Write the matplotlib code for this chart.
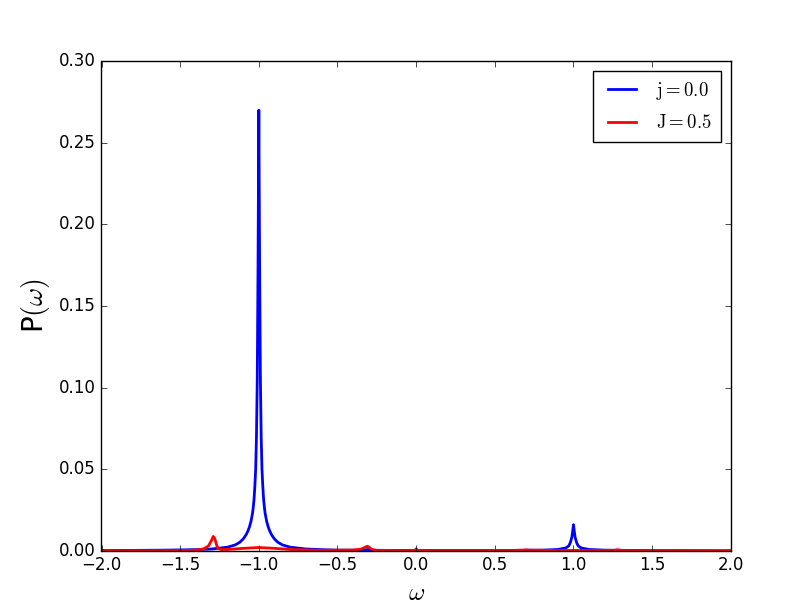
import matplotlib
matplotlib.use("Agg")
import matplotlib.pyplot as plt

# spectra
w_j0 = [-2.0, -1.6, -1.4, -1.3, -1.2, -1.15, -1.12, -1.1, -1.09, -1.08, -1.07,
        -1.06, -1.05, -1.04, -1.035, -1.03, -1.025, -1.02, -1.015, -1.01, -1.005,
        -1.0, -0.995, -0.99, -0.985, -0.98, -0.975, -0.97, -0.965, -0.96, -0.95,
        -0.94, -0.93, -0.92, -0.91, -0.9, -0.88, -0.85, -0.8, -0.7, -0.6, -0.5,
        -0.35, -0.31, -0.27, -0.1, 0.5, 0.8, 0.9, 0.95, 0.97, 0.98, 0.99, 0.995,
        1.0, 1.005, 1.01, 1.02, 1.03, 1.05, 1.1, 1.2, 1.5, 2.0]
p_j0 = [0.0001, 0.0004, 0.0007, 0.0011, 0.0022, 0.0036, 0.0053, 0.0072, 0.0085,
        0.0100, 0.0120, 0.0145, 0.0180, 0.0230, 0.0270, 0.0320, 0.0400, 0.0500,
        0.0700, 0.1050, 0.1750, 0.2700, 0.1750, 0.1050, 0.0700, 0.0500, 0.0400,
        0.0320, 0.0270, 0.0230, 0.0180, 0.0145, 0.0120, 0.0100, 0.0085, 0.0072,
        0.0053, 0.0036, 0.0022, 0.0011, 0.0007, 0.0004, 0.0003, 0.0008, 0.0003,
        0.0002, 0.0002, 0.0004, 0.0008, 0.0017, 0.0030, 0.0050, 0.0085, 0.0120,
        0.0160, 0.0120, 0.0085, 0.0050, 0.0030, 0.0017, 0.0008, 0.0004, 0.0001,
        0.0]

w_j5 = [-2.0, -1.5, -1.4, -1.35, -1.32, -1.3, -1.29, -1.28, -1.27, -1.26, -1.24,
        -1.2, -1.1, -1.0, -0.9, -0.8, -0.6, -0.4, -0.35, -0.32, -0.31, -0.3,
        -0.28, -0.25, -0.1, -0.01, 0.0, 0.01, 0.6, 0.68, 0.7, 0.72, 0.9, 1.25,
        1.28, 1.31, 2.0]
p_j5 = [0.0, 0.0001, 0.0004, 0.0012, 0.0030, 0.0065, 0.0088, 0.0075, 0.0040,
        0.0015, 0.0008, 0.0008, 0.0015, 0.0020, 0.0015, 0.0008, 0.0003, 0.0005,
        0.0010, 0.0024, 0.0028, 0.0022, 0.0008, 0.0003, 0.0002, 0.0002, 0.0012,
        0.0002, 0.0002, 0.0004, 0.0006, 0.0004, 0.0002, 0.0002, 0.0006, 0.0002,
        0.0]

plt.style.use("classic")
plt.rcParams["mathtext.fontset"] = "cm"

fig = plt.figure(figsize=(8.12, 6.12), dpi=100, facecolor="white")
ax = fig.add_subplot(111)
ax.plot(w_j0, p_j0, color="b", lw=2, label=r"$\mathrm{j=0.0}$")
ax.plot(w_j5, p_j5, color="r", lw=2, label=r"$\mathrm{J=0.5}$")
ax.set_xlim(-2, 2)
ax.set_ylim(0, 0.30)
ax.set_xlabel(r"$\omega$", fontsize=18)
ax.set_ylabel(r"P$(\omega)$", fontsize=20)
ax.legend(loc="upper right", fontsize=13.5, handlelength=2.1,
          handletextpad=0.8, labelspacing=0.6, borderpad=0.5)

fig.savefig("out.png", dpi=100, facecolor="white")
